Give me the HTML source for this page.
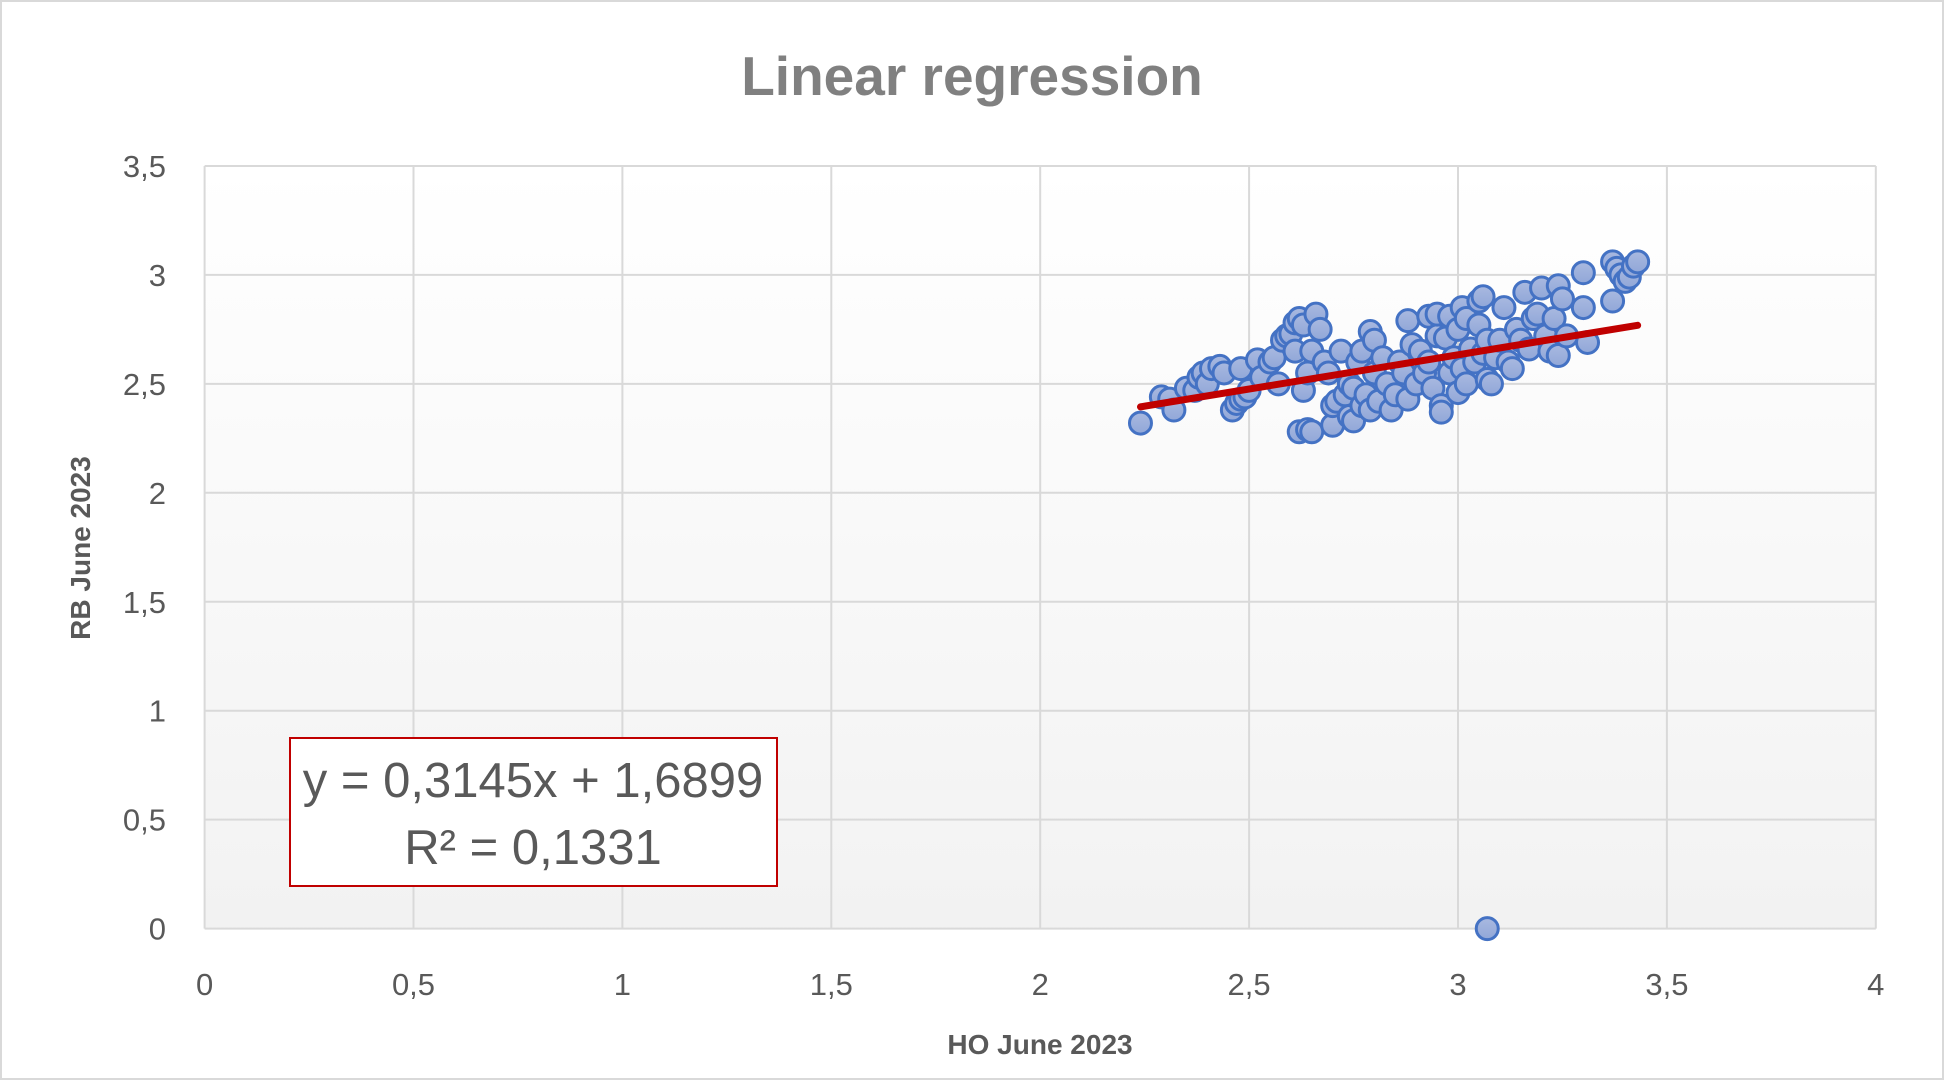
<!DOCTYPE html>
<html><head><meta charset="utf-8"><style>
html,body{margin:0;padding:0;background:#fff;}
svg{display:block;font-family:"Liberation Sans",sans-serif;}
</style></head><body>
<svg id="chart" width="1944" height="1080" viewBox="0 0 1944 1080">
<defs>
<linearGradient id="bg" x1="0" y1="0" x2="0" y2="1"><stop offset="0" stop-color="#ffffff"/><stop offset="1" stop-color="#f2f2f2"/></linearGradient>
<linearGradient id="mk" x1="0" y1="0" x2="0" y2="1"><stop offset="0" stop-color="#a9b9e0"/><stop offset="1" stop-color="#91a7d8"/></linearGradient>
</defs>
<rect x="1" y="1" width="1942" height="1078" fill="#fff" stroke="#d9d9d9" stroke-width="2"/>
<rect x="205" y="166" width="1671" height="763" fill="url(#bg)"/>
<text x="972" y="95" text-anchor="middle" font-size="55" font-weight="bold" fill="#808080">Linear regression</text>
<g id="grid"></g>
<g id="ticks" font-size="31" fill="#595959"></g>
<text x="1040" y="1054" text-anchor="middle" font-size="28" font-weight="bold" fill="#595959">HO June 2023</text>
<text transform="translate(90,548) rotate(-90)" text-anchor="middle" font-size="28" font-weight="bold" fill="#595959">RB June 2023</text>
<g id="pts"></g>
<g id="trend"></g>
<rect x="290" y="738" width="487" height="148" fill="#fff" stroke="#c00000" stroke-width="2"/>
<text x="533" y="797" text-anchor="middle" font-size="49" fill="#595959">y = 0,3145x + 1,6899</text>
<text x="533" y="864" text-anchor="middle" font-size="49" fill="#595959">R² = 0,1331</text>
</svg>
<script>
const xTicks=[0,0.5,1,1.5,2,2.5,3,3.5,4];
const yTicks=[0,0.5,1,1.5,2,2.5,3,3.5];
const xVals=[2.24,2.29,2.31,2.32,2.35,2.37,2.38,2.39,2.40,2.41,2.43,2.44,2.46,2.47,2.48,2.48,2.49,2.50,2.52,2.53,2.55,2.56,2.57,2.58,2.59,2.60,2.61,2.61,2.62,2.62,2.63,2.63,2.64,2.64,2.65,2.65,2.66,2.67,2.68,2.69,2.70,2.70,2.71,2.72,2.73,2.74,2.74,2.75,2.75,2.76,2.77,2.77,2.78,2.79,2.79,2.80,2.80,2.81,2.82,2.83,2.84,2.85,2.86,2.87,2.88,2.88,2.89,2.90,2.91,2.92,2.93,2.93,2.94,2.95,2.95,2.96,2.96,2.97,2.98,2.98,2.99,3.00,3.00,3.01,3.01,3.02,3.02,3.03,3.04,3.05,3.05,3.06,3.06,3.07,3.07,3.07,3.08,3.09,3.10,3.11,3.12,3.13,3.14,3.15,3.16,3.17,3.18,3.19,3.20,3.21,3.22,3.23,3.24,3.24,3.25,3.26,3.30,3.30,3.31,3.37,3.37,3.38,3.39,3.40,3.41,3.42,3.43];
const yVals=[2.32,2.44,2.43,2.38,2.48,2.47,2.53,2.55,2.50,2.57,2.58,2.55,2.38,2.41,2.57,2.43,2.44,2.47,2.61,2.53,2.60,2.62,2.50,2.70,2.72,2.73,2.65,2.78,2.80,2.28,2.77,2.47,2.55,2.29,2.28,2.65,2.82,2.75,2.60,2.55,2.31,2.40,2.42,2.65,2.45,2.35,2.50,2.33,2.48,2.60,2.65,2.40,2.45,2.74,2.38,2.55,2.70,2.42,2.62,2.50,2.38,2.45,2.60,2.55,2.43,2.79,2.68,2.50,2.65,2.55,2.81,2.60,2.48,2.72,2.82,2.40,2.37,2.71,2.55,2.81,2.62,2.75,2.46,2.57,2.85,2.50,2.80,2.66,2.60,2.88,2.77,2.90,2.64,0.00,2.70,2.52,2.50,2.62,2.70,2.85,2.60,2.57,2.75,2.70,2.92,2.66,2.80,2.82,2.94,2.72,2.65,2.80,2.95,2.63,2.89,2.72,3.01,2.85,2.69,3.06,2.88,3.03,3.00,2.97,2.99,3.04,3.06];
const slope=0.3145, intercept=1.6899;
const NS='http://www.w3.org/2000/svg';
const X=v=>204.6+v*417.8, Y=v=>928.6-v*217.9;
function mk(tag,attrs,parent){const e=document.createElementNS(NS,tag);for(const k in attrs)e.setAttribute(k,attrs[k]);document.getElementById(parent).appendChild(e);return e;}
xTicks.forEach(t=>{
  const l=mk('line',{x1:X(t),x2:X(t),y1:Y(3.5),y2:Y(0),stroke:'#d9d9d9','stroke-width':2},'grid');
  
  
  const tx=mk('text',{x:X(t),y:995,'text-anchor':'middle'},'ticks');tx.textContent=String(t).replace('.',',');
  
  
});
yTicks.forEach(t=>{
  const l=mk('line',{x1:X(0),x2:X(4),y1:Y(t),y2:Y(t),stroke:'#d9d9d9','stroke-width':2},'grid');
  
  
  const tx=mk('text',{x:166,y:Y(t)+11,'text-anchor':'end'},'ticks');tx.textContent=String(t).replace('.',',');
  
  
});
xVals.forEach((x,i)=>{
  const c=mk('circle',{cx:X(x),cy:Y(yVals[i]),r:11,fill:'url(#mk)',stroke:'#4472c4','stroke-width':3},'pts');
  
  
});
const xmin=Math.min(...xVals), xmax=Math.max(...xVals);
const tl=mk('line',{x1:X(xmin),y1:Y(slope*xmin+intercept),x2:X(xmax),y2:Y(slope*xmax+intercept),stroke:'#c00000','stroke-width':7,'stroke-linecap':'round'},'trend');


</script>
</body></html>
